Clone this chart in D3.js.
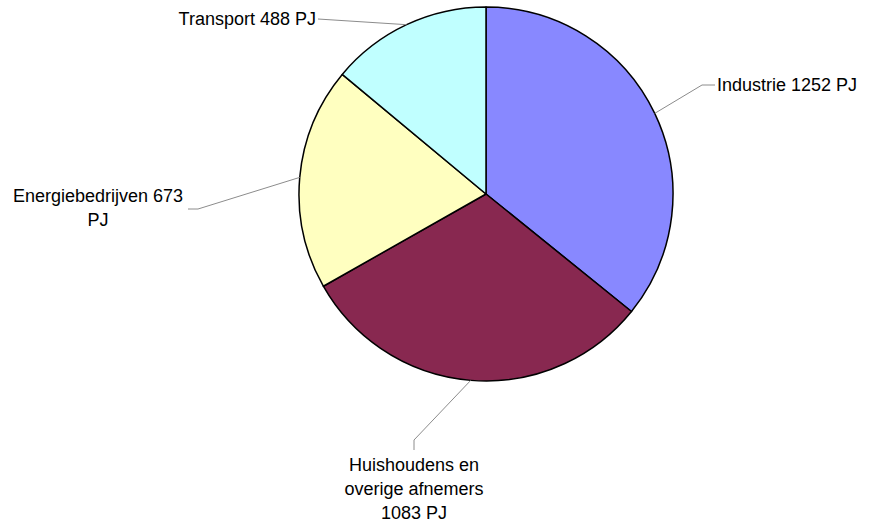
<!DOCTYPE html>
<html>
<head>
<meta charset="utf-8">
<script src="https://cdn.jsdelivr.net/npm/d3@7"></script>
<style>
  body { margin: 0; background: #fff; }
  text { font-family: "Liberation Sans", Arial, sans-serif; font-size: 18px; fill: #000; }
</style>
</head>
<body>
<div id="chart"></div>
<script>
// data
var categories = ["Industrie", "Huishoudens en overige afnemers", "Energiebedrijven", "Transport"];
var values = [1252, 1083, 673, 488];
var labelLines = [
  ["Industrie 1252 PJ"],
  ["Huishoudens en", "overige afnemers", "1083 PJ"],
  ["Energiebedrijven 673", "PJ"],
  ["Transport 488 PJ"]
];
var colors = ["#8888ff", "#882850", "#ffffc0", "#c0ffff"];

var svgWidth = 877, svgHeight = 523;
var cx = 486, cy = 194, radius = 187;

var svg = d3.select("#chart").append("svg")
  .attr("width", svgWidth)
  .attr("height", svgHeight);

var g = svg.append("g").attr("transform", "translate(" + cx + "," + cy + ")");

var data = categories.map(function(c, i) { return { name: c, value: values[i], i: i }; });

var pie = d3.pie().sort(null).value(function(d) { return d.value; });
var arc = d3.arc().innerRadius(0).outerRadius(radius);
var edgeArc = d3.arc().innerRadius(radius).outerRadius(radius);

var arcs = pie(data);

g.selectAll("path.slice")
  .data(arcs)
  .enter().append("path")
  .attr("class", "slice")
  .attr("d", arc)
  .attr("fill", function(d) { return colors[d.data.i]; })
  .attr("stroke", "#000")
  .attr("stroke-width", 1.5)
  .attr("stroke-linejoin", "round");

// label layout (relative to pie centre): elbow, end, text anchor, text position
var layout = [
  { pts: [[216, -109], [229, -109]], anchor: "start", x: 231, y: -103 },
  { pts: [[-72, 246], [-72, 256]], anchor: "middle", x: -72, y: 277 },
  { pts: [[-288, 15], [-298, 15]], anchor: "middle", x: -388, y: 8 },
  { pts: [[-168, -175]], anchor: "end", x: -170, y: -169 }
];

var lineH = 24;

arcs.forEach(function(d, k) {
  var L = layout[k];
  var start = edgeArc.centroid(d);
  var pts = [start].concat(L.pts);
  g.append("path")
    .attr("d", d3.line()(pts))
    .attr("fill", "none")
    .attr("stroke", "#8c8c8c")
    .attr("stroke-width", 1);

  var t = g.append("text")
    .attr("text-anchor", L.anchor)
    .attr("x", L.x)
    .attr("y", L.y);
  labelLines[k].forEach(function(line, j) {
    t.append("tspan")
      .attr("x", L.x)
      .attr("dy", j === 0 ? 0 : lineH)
      .text(line);
  });
});
</script>
</body>
</html>
